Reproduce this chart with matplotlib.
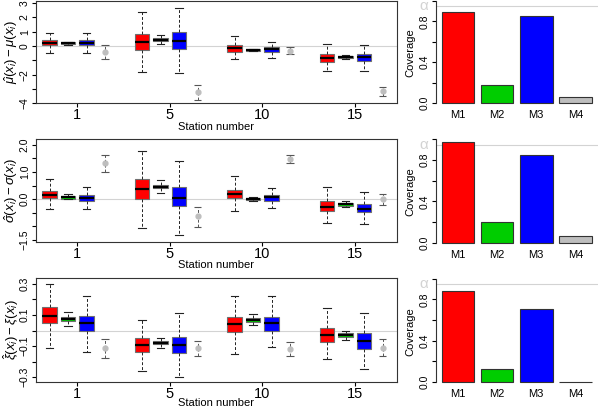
import matplotlib
matplotlib.use("Agg")
import matplotlib.pyplot as plt
import numpy as np

plt.rcParams["font.family"] = ["Liberation Sans", "DejaVu Sans"]
plt.rcParams["mathtext.fontset"] = "custom"
plt.rcParams["mathtext.rm"] = "Liberation Sans"
plt.rcParams["mathtext.it"] = "Liberation Sans:italic"

stations = ["1", "5", "10", "15"]
methods = ["M1", "M2", "M3", "M4"]

# boxplot stats per station: (whislo, q1, med, q3, whishi)
mu_m1 = [(-0.47, 0.07, 0.23, 0.42, 0.88), (-1.81, -0.28, 0.25, 0.84, 2.35),
         (-0.93, -0.44, -0.16, 0.07, 0.72), (-1.74, -1.10, -0.81, -0.58, 0.12)]
mu_m2 = [(0.10, 0.13, 0.20, 0.26, 0.30), (0.12, 0.33, 0.44, 0.58, 0.77),
         (-0.38, -0.35, -0.28, -0.21, -0.18), (-0.90, -0.84, -0.76, -0.67, -0.60)]
mu_m3 = [(-0.47, 0.07, 0.23, 0.40, 0.88), (-1.90, -0.23, 0.37, 0.95, 2.63),
         (-0.81, -0.40, -0.23, -0.09, 0.30), (-1.72, -1.05, -0.79, -0.56, 0.07)]
# M4: (estimate, lower, upper)
mu_m4 = [(-0.40, -0.90, 0.07), (-3.19, -3.77, -2.72), (-0.33, -0.56, -0.05), (-3.12, -3.49, -2.88)]

sigma_m1 = [(-0.37, 0.03, 0.15, 0.31, 0.73), (-1.09, -0.01, 0.36, 0.74, 1.79),
            (-0.43, 0.03, 0.19, 0.33, 0.85), (-0.90, -0.44, -0.28, -0.07, 0.43)]
sigma_m2 = [(-0.01, 0.00, 0.06, 0.11, 0.17), (0.23, 0.40, 0.46, 0.52, 0.70),
            (-0.07, -0.04, 0.00, 0.04, 0.09), (-0.28, -0.26, -0.20, -0.14, -0.09)]
sigma_m3 = [(-0.37, -0.06, 0.05, 0.15, 0.46), (-1.33, -0.26, 0.05, 0.43, 1.42),
            (-0.32, -0.06, 0.06, 0.15, 0.40), (-0.93, -0.49, -0.36, -0.19, 0.25)]
sigma_m4 = [(1.32, 0.99, 1.63), (-0.62, -1.05, -0.28), (1.47, 1.32, 1.63), (-0.01, -0.22, 0.19)]

xi_m1 = [(-0.110, 0.046, 0.095, 0.150, 0.300), (-0.258, -0.140, -0.093, -0.050, 0.068),
         (-0.151, -0.008, 0.042, 0.089, 0.222), (-0.185, -0.072, -0.029, 0.014, 0.143)]
xi_m2 = [(0.029, 0.061, 0.074, 0.085, 0.117), (-0.115, -0.089, -0.078, -0.066, -0.046),
         (0.035, 0.057, 0.068, 0.078, 0.106), (-0.061, -0.040, -0.029, -0.018, -0.003)]
xi_m3 = [(-0.136, -0.001, 0.050, 0.095, 0.224), (-0.300, -0.147, -0.093, -0.040, 0.115),
         (-0.108, -0.003, 0.046, 0.089, 0.222), (-0.250, -0.119, -0.066, -0.018, 0.115)]
xi_m4 = [(-0.115, -0.179, -0.057), (-0.115, -0.164, -0.066), (-0.119, -0.164, -0.072), (-0.110, -0.162, -0.057)]

cov_mu = [0.888, 0.178, 0.855, 0.058]
cov_sigma = [0.970, 0.203, 0.849, 0.065]
cov_xi = [0.883, 0.120, 0.705, 0.0]
alpha_level = 0.95

colors = ["#FF0000", "#00CD00", "#0000FF", "#BEBEBE"]

rows = [
    dict(boxes=[mu_m1, mu_m2, mu_m3], m4=mu_m4, cov=cov_mu,
         ylabel=r"$\hat{\mu}(x_i) - \mu(x_i)$", ylim=(-4.0, 3.14),
         yticks=np.arange(-4, 3.5, 1), ylabs={-4: "−4", -2: "−2", 0: "0", 1: "1", 2: "2", 3: "3"},
         left_px=(1, 103.3), xlab_off=24, right_px=(103.3, 102.5)),
    dict(boxes=[sigma_m1, sigma_m2, sigma_m3], m4=sigma_m4, cov=cov_sigma,
         ylabel=r"$\hat{\sigma}(x_i) - \sigma(x_i)$", ylim=(-1.59, 2.21),
         yticks=np.arange(-1.5, 2.01, 0.5), ylabs={-1.5: "−1.5", 0.0: "0.0", 1.0: "1.0", 2.0: "2.0"},
         left_px=(139.3, 242), xlab_off=23, right_px=(242.7, 103.3)),
    dict(boxes=[xi_m1, xi_m2, xi_m3], m4=xi_m4, cov=cov_xi,
         ylabel=r"$\hat{\xi}(x_i) - \xi(x_i)$", ylim=(-0.331, 0.338),
         yticks=np.round(np.arange(-0.3, 0.31, 0.1), 1), ylabs={-0.3: "−0.3", -0.1: "−0.1", 0.1: "0.1", 0.3: "0.3"},
         left_px=(278, 382), xlab_off=20.5, right_px=(381.7, 103)),
]

W, H = 598, 409
fig = plt.figure(figsize=(W / 100, H / 100), dpi=100)


def px_axes(x0, x1, y0, y1):
    return fig.add_axes([x0 / W, 1 - y1 / H, (x1 - x0) / W, (y1 - y0) / H])


for row in rows:
    top, bot = row["left_px"]
    ax = px_axes(36, 397, top, bot)
    ax.axhline(0, color="#D3D3D3", lw=0.8, zorder=0)

    for g in range(len(stations)):
        for m, data in enumerate(row["boxes"]):
            lo, q1, med, q3, hi = data[g]
            ax.bxp([dict(whislo=lo, q1=q1, med=med, q3=q3, whishi=hi, fliers=[])],
                   positions=[5 * g + m], widths=0.8, patch_artist=True, manage_ticks=False,
                   boxprops=dict(facecolor=colors[m], edgecolor="#707070", lw=0.8),
                   medianprops=dict(color="black", lw=1.6, solid_capstyle="butt"),
                   whiskerprops=dict(color="#222222", lw=0.7, ls=(0, (3, 2))),
                   capprops=dict(color="#222222", lw=0.8), capwidths=0.4)
        est, lo, hi = row["m4"][g]
        p = 5 * g + 3
        ax.vlines(p, lo, hi, color="#555555", lw=0.7, ls=(0, (3, 2)))
        ax.hlines([lo, hi], p - 0.2, p + 0.2, color="#555555", lw=0.8)
        ax.plot([p], [est], "o", color=colors[3], ms=3.5, mec=colors[3])

    ax.set_xlim(-0.73, 18.78)
    ax.set_ylim(*row["ylim"])
    ax.set_xticks([5 * g + 1.5 for g in range(len(stations))])
    ax.set_xticklabels(stations, fontsize=10.5)
    ax.set_yticks(row["yticks"])
    ax.set_yticklabels([row["ylabs"].get(round(float(t), 1), "") for t in row["yticks"]],
                       rotation=90, va="center", fontsize=7.5)
    ax.tick_params(axis="x", length=3, width=0.8, pad=0.5)
    ax.tick_params(axis="y", length=3, width=0.8, pad=1.5)
    for s in ax.spines.values():
        s.set_linewidth(0.8)
        s.set_color("#333333")
    ax.set_xlabel("Station number", fontsize=8, va="center")
    ax.xaxis.set_label_coords(0.5, -row["xlab_off"] / (bot - top))
    ax.set_ylabel(row["ylabel"], fontsize=9.5, va="center")
    ax.yaxis.set_label_coords(-0.069, 0.5)

    # coverage bars
    zero, scale = row["right_px"]
    bx = px_axes(435.5, 597.7, zero - 1.02 * scale, zero + 0.04 * scale)
    xpos = 0.7 + 1.2 * np.arange(len(methods))
    bx.bar(xpos, row["cov"], width=1.0, color=colors, edgecolor="#333333", lw=0.8)
    bx.axhline(alpha_level, color="#D3D3D3", lw=0.8, zorder=0)
    bx.set_xlim(0.016, 4.984)
    bx.set_ylim(-0.04, 1.02)
    bx.set_xticks(xpos)
    bx.set_xticklabels(methods, fontsize=8)
    bx.tick_params(axis="x", length=0, pad=2)
    yt = np.round(np.arange(0, 1.01, 0.2), 1)
    bx.set_yticks(yt)
    bx.set_yticklabels(["0.0", "", "0.4", "", "0.8", ""], rotation=90, va="center", fontsize=7.5)
    bx.tick_params(axis="y", length=3, width=0.8, pad=1)
    for k in ("top", "right", "bottom"):
        bx.spines[k].set_visible(False)
    bx.spines["left"].set_bounds(0, 1)
    bx.spines["left"].set_linewidth(0.8)
    bx.spines["left"].set_color("#333333")
    bx.set_ylabel("Coverage", fontsize=8, va="center")
    bx.yaxis.set_label_coords(-0.152, 0.5)
    bx.text(-0.072, alpha_level, "α", transform=bx.get_yaxis_transform(),
            ha="center", va="center", fontsize=11, color="#D3D3D3")

fig.savefig("out.png", dpi=100)
